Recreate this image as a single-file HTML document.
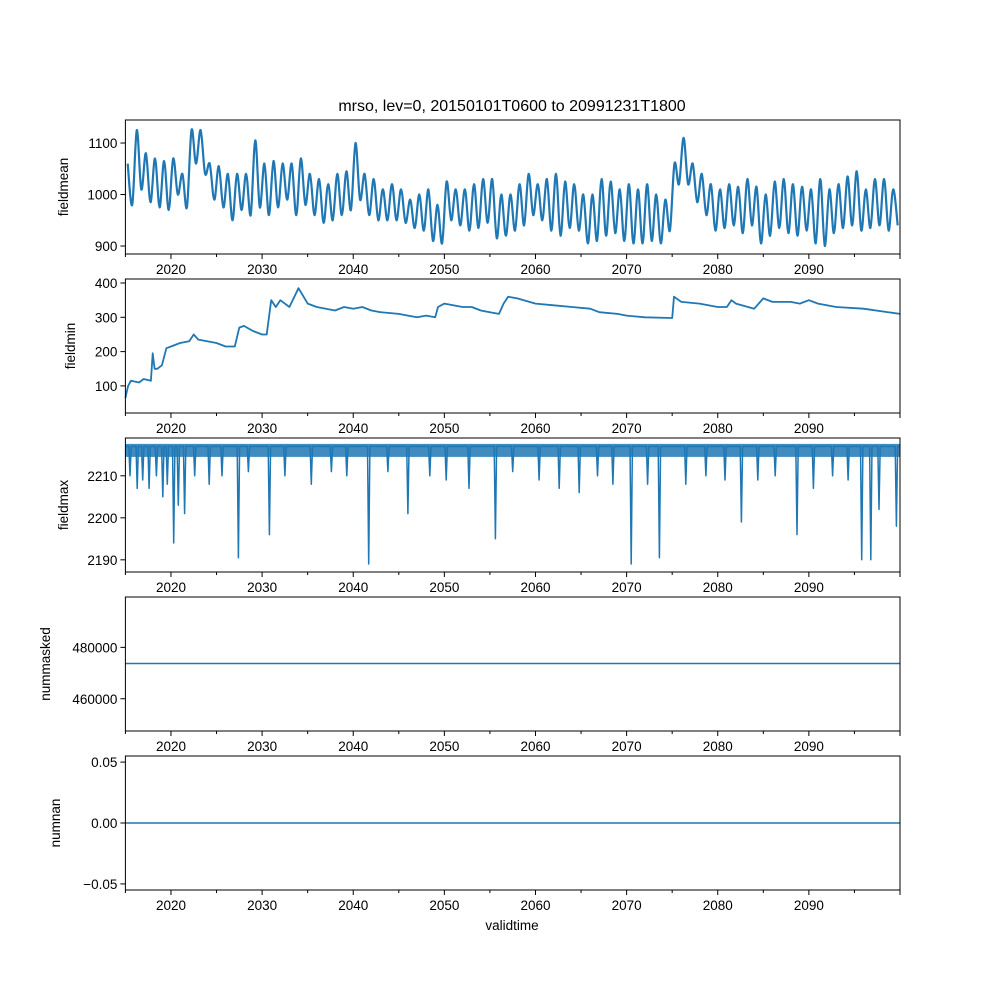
<!DOCTYPE html>
<html><head><meta charset="utf-8"><style>
body{margin:0;background:#fff;}
svg{display:block;font-family:"Liberation Sans","DejaVu Sans",sans-serif;}
</style></head><body>
<svg id="fig" width="1000" height="1000" viewBox="0 0 1000 1000"></svg>
<script>
const years=[];for(let y=2015;y<2100;y++)years.push(y);
const meanHigh=[1060,1125,1080,1070,1065,1070,1040,1125,1125,1060,1055,1040,1040,1040,1105,1060,1065,1060,1060,1070,1040,1030,1020,1040,1045,1100,1040,1030,1010,1020,1010,990,1000,1010,980,1025,1010,1010,1020,1030,1030,1000,1000,1020,1040,1020,1030,1040,1025,1020,1000,1000,1030,1025,1010,1020,1010,1020,1000,990,1060,1110,1060,1040,1020,1010,1020,1015,1030,1015,1000,1025,1030,1020,1015,1010,1030,1010,1020,1035,1045,1010,1030,1030,1010];
const meanLow=[980,1010,985,975,970,1000,975,1060,1040,990,975,950,970,960,975,960,975,990,960,980,960,945,950,960,970,990,960,950,950,950,945,935,930,910,905,950,940,930,935,945,915,920,930,940,960,950,930,920,935,930,905,910,920,925,910,905,905,910,905,930,1020,1020,985,960,930,935,940,925,940,905,920,935,925,920,930,905,900,925,935,940,930,935,940,930,940];
const minT=[2015.0,2015.3,2015.6,2016.5,2017,2017.8,2018,2018.2,2018.5,2019,2019.5,2020,2021,2022,2022.5,2023,2025,2026,2027,2027.5,2028,2029,2030,2030.5,2031,2031.5,2032,2033,2034,2035,2036,2038,2039,2040,2041,2042,2043,2045,2046,2047,2048,2049,2049.3,2050,2052,2053,2054,2055,2056,2056.5,2057,2058,2060,2062,2064,2066,2067,2069,2070,2072,2075,2075.2,2076,2078,2080,2081,2081.5,2082,2084,2085,2086,2088,2089,2090,2091,2093,2096,2100];
const minV=[65,100,115,110,120,115,195,150,150,160,210,215,225,230,250,235,225,215,215,270,275,260,250,250,350,330,350,330,385,340,330,320,330,325,330,320,315,310,305,300,305,300,330,340,330,330,320,315,310,340,360,355,340,335,330,325,315,310,305,300,298,360,345,340,330,330,350,340,325,355,345,345,340,350,340,330,325,310];
const maxBase=2217;
const dipT=[2015.5,2016.3,2016.9,2017.6,2018.4,2019.1,2019.6,2020.3,2020.8,2021.5,2022.6,2024.2,2025.6,2027.4,2028.5,2030.8,2032.5,2035.4,2037.6,2039.3,2041.7,2043.8,2046,2048.4,2050.2,2052.7,2055.6,2057.5,2060.4,2062.6,2064.8,2066.8,2068.5,2070.5,2072.3,2073.6,2076.5,2078.7,2080.8,2082.6,2084.4,2086.3,2088.7,2090.5,2092.6,2094.3,2095.8,2096.8,2097.7,2099.6];
const dipV=[2210,2207,2209,2207,2210,2205,2208,2194,2203,2201,2210,2208,2210,2190.5,2211,2196,2210,2208,2211,2210,2189,2211,2201,2210,2209,2207,2195,2211,2209,2207,2206,2210,2208,2189,2208,2190.5,2208,2210,2209,2199,2209,2210,2196,2207,2210,2209,2190,2190,2202,2198];
const maskedT=[2015,2100];const maskedV=[473700,473700];
const nanT=[2015,2100];const nanV=[0,0];

const NS="http://www.w3.org/2000/svg";
const svg=document.getElementById('fig');
function el(tag,attrs,parent){const e=document.createElementNS(NS,tag);for(const k in attrs)e.setAttribute(k,attrs[k]);(parent||svg).appendChild(e);return e;}
const L=125.4,R=900;
const sx=t=>L+(t-2015)*(R-L)/85;
const C="#1f77b4";
function smooth(pts){let d="M"+pts[0][0].toFixed(1)+","+pts[0][1].toFixed(1);
 for(let i=0;i<pts.length-1;i++){const p0=pts[i-1]||pts[i],p1=pts[i],p2=pts[i+1],p3=pts[i+2]||p2;
  const c1=[p1[0]+(p2[0]-p0[0])/6,p1[1]+(p2[1]-p0[1])/6],c2=[p2[0]-(p3[0]-p1[0])/6,p2[1]-(p3[1]-p1[1])/6];
  d+="C"+c1[0].toFixed(1)+","+c1[1].toFixed(1)+" "+c2[0].toFixed(1)+","+c2[1].toFixed(1)+" "+p2[0].toFixed(1)+","+p2[1].toFixed(1);}
 return d;}
const panels=[
 {top:120,bot:254,lo:884.5,hi:1144.7,ticks:[900,1000,1100],lab:v=>v,name:"fieldmean",lx:68},
 {top:279,bot:413,lo:21,hi:411.7,ticks:[100,200,300,400],lab:v=>v,name:"fieldmin",lx:75},
 {top:438,bot:572,lo:2187.1,hi:2219.0,ticks:[2190,2200,2210],lab:v=>v,name:"fieldmax",lx:68},
 {top:597,bot:731,lo:447450,hi:499600,ticks:[460000,480000],lab:v=>v,name:"nummasked",lx:50},
 {top:756,bot:890,lo:-0.055,hi:0.055,ticks:[-0.05,0,0.05],lab:v=>v.toFixed(2).replace('-','−'),name:"numnan",lx:60}
];
panels.forEach((p,i)=>{
 const g=el('g',{});
 
 
 const sy=v=>p.bot-(v-p.lo)*(p.bot-p.top)/(p.hi-p.lo);
 let d="";let sw=1.5;
 if(i===0){const pts=[];years.forEach((y,k)=>{pts.push([sx(y+0.25),sy(meanHigh[k])]);pts.push([sx(y+0.75),sy(meanLow[k])]);});d=smooth(pts);sw=2.2;}
 else if(i===1){minT.forEach((t,k)=>{d+=(k?"L":"M")+sx(t).toFixed(1)+","+sy(minV[k]).toFixed(1);});sw=1.8;}
 else if(i===2){
  const band=el('rect',{x:L,y:sy(2217.6),width:R-L,height:sy(2214.5)-sy(2217.6),fill:C,opacity:0.85},g);
  
  d="M"+L+","+sy(maxBase);
  dipT.forEach((t,k)=>{d+="L"+(sx(t)-1.2).toFixed(1)+","+sy(maxBase)+"L"+sx(t).toFixed(1)+","+sy(dipV[k]).toFixed(1)+"L"+(sx(t)+1.2).toFixed(1)+","+sy(maxBase);});
  d+="L"+R+","+sy(maxBase);
 }
 else if(i===3){maskedT.forEach((t,k)=>{d+=(k?"L":"M")+sx(t)+","+sy(maskedV[k]);});}
 else {nanT.forEach((t,k)=>{d+=(k?"L":"M")+sx(t)+","+sy(nanV[k]);});}
 const ln=el('path',{d:d,fill:"none",stroke:C,"stroke-width":sw,"stroke-linejoin":"round"},g);
 
 const fr=el('rect',{x:L,y:p.top,width:R-L,height:p.bot-p.top,fill:"none",stroke:"#000","stroke-width":1},g);
 
 p.ticks.forEach(v=>{
  const y=sy(v);
  el('line',{x1:L-5,x2:L,y1:y,y2:y,stroke:"#000","stroke-width":1},g);
  const t=el('text',{x:L-8,y:y+5,"text-anchor":"end","font-size":13.5},g);
  
  t.textContent=p.lab(v);
 });
 for(let yr=2015;yr<=2100;yr+=5){
  const x=sx(yr);const major=(yr%10===0);
  el('line',{x1:x,x2:x,y1:p.bot,y2:p.bot+(major?5:3),stroke:"#000","stroke-width":1},g);
  if(major&&yr<2100){const t=el('text',{x:x,y:p.bot+20,"text-anchor":"middle","font-size":13.5},g);
   t.textContent=yr;}
 }
 const yl=el('text',{x:p.lx,y:(p.top+p.bot)/2,"text-anchor":"middle","font-size":13.5,transform:`rotate(-90 ${p.lx} ${(p.top+p.bot)/2})`},g);
 
 yl.textContent=p.name;
});
const ti=el('text',{x:512,y:111,"text-anchor":"middle","font-size":16});

ti.textContent="mrso, lev=0, 20150101T0600 to 20991231T1800";
const xl=el('text',{x:512,y:930,"text-anchor":"middle","font-size":13.5});

xl.textContent="validtime";
</script>
</body></html>
